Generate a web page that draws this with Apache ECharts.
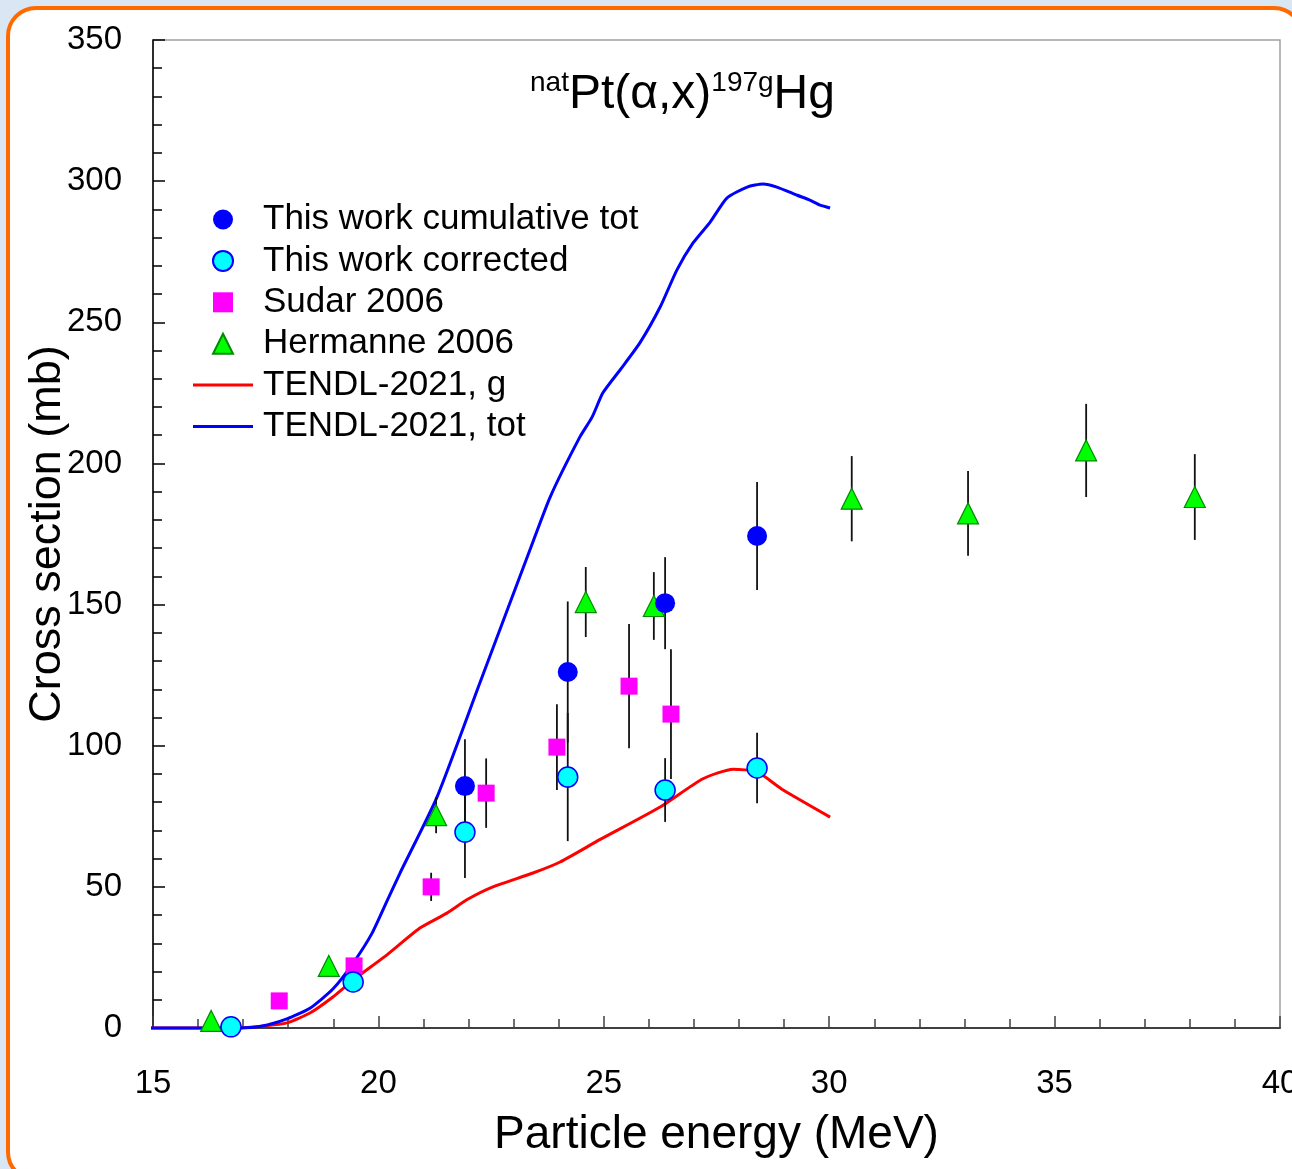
<!DOCTYPE html>
<html>
<head>
<meta charset="utf-8">
<script src="https://cdn.jsdelivr.net/npm/echarts@6/dist/echarts.min.js"></script>
<style>
  html, body { margin:0; padding:0; width:1292px; height:1169px; overflow:hidden; background:#d9e6f3; }
  #frame { position:absolute; left:6px; top:6px; width:1290px; height:1168px; border:4px solid #ff6a00; border-radius:30px; background:#fff; }
  #main { position:absolute; left:0; top:0; width:1292px; height:1169px; }
</style>
</head>
<body>
<div id="frame"></div>
<div id="main"></div>
<script>
// ---- data ----
const cumE   = [21.92, 24.20, 26.36, 28.40];
const cumV   = [85.7, 126.1, 150.5, 174.3];
const cumErr = [16.6, 25.0, 16.3, 19.1];

const corE   = [16.73, 19.44, 21.92, 24.20, 26.36, 28.40];
const corV   = [0.4, 16.3, 69.4, 88.9, 84.3, 92.1];
const corErr = [0, 0, 16.3, 22.7, 11.3, 12.5];

const sudE   = [17.80, 19.46, 21.17, 22.39, 23.96, 25.56, 26.49];
const sudV   = [9.6, 22.0, 50.0, 83.2, 99.5, 121.1, 111.2];
const sudErr = [0, 0, 5.0, 12.3, 15.2, 22.0, 23.0];

const herE   = [16.29, 18.90, 21.28, 24.60, 26.11, 30.50, 33.08, 35.70, 38.11];
const herV   = [2.5, 22.0, 75.4, 150.9, 149.5, 187.5, 182.3, 204.6, 188.1];
const herErr = [0, 0, 6.4, 12.4, 12.0, 15.1, 15.0, 16.5, 15.2];

const tgE = [14.75, 16.9, 17.4, 17.97, 18.48, 18.99, 19.44, 20.19, 20.92, 21.52, 21.97, 22.54, 23.43, 24.03, 24.92, 26.25, 27.2, 27.87, 28.4, 28.98, 30.02];
const tgV = [0, 0, 0.6, 1.8, 5.3, 11.0, 17.0, 25.9, 35.4, 40.7, 45.5, 50.0, 54.9, 58.8, 66.8, 78.3, 88.3, 91.7, 90.7, 84.3, 74.7];

const ttE = [14.75, 16.9, 17.4, 17.97, 18.48, 18.99, 19.44, 19.86, 20.2, 20.48, 21.3, 22.25, 23.36, 23.81, 24.47, 24.74, 24.98, 25.36, 25.8, 26.25, 26.62, 26.98, 27.36, 27.73, 28.18, 28.53, 28.84, 29.29, 29.57, 29.8, 30.02];
const ttV = [0, 0, 0.6, 3.2, 7.0, 13.8, 23.0, 33.6, 45.3, 54.9, 81.8, 122.2, 169.3, 188.1, 209.4, 216.4, 225.0, 233.1, 242.7, 255.4, 268.5, 278.1, 285.5, 294.0, 297.9, 299.0, 297.9, 295.0, 293.3, 291.5, 290.5];

const xTicks = [15, 20, 25, 30, 35, 40];
const yTicks = [0, 50, 100, 150, 200, 250, 300, 350];

const names = ['This work cumulative tot', 'This work corrected', 'Sudar 2006', 'Hermanne 2006', 'TENDL-2021, g', 'TENDL-2021, tot'];

// ---- build ----
const zip = (a, b) => a.map((v, i) => [v, b[i]]);
const errData = [];
[[cumE, cumV, cumErr], [corE, corV, corErr], [sudE, sudV, sudErr], [herE, herV, herErr]].forEach(([e, v, er]) => {
  e.forEach((x, i) => { if (er[i] > 0) errData.push([x, v[i] - er[i], v[i] + er[i]]); });
});

const FONT = '"Liberation Sans", Arial, sans-serif';
const LINE_ICON = 'path://M0,0L60,0L60,3L0,3Z';
const chart = echarts.init(document.getElementById('main'), null, { renderer: 'canvas' });

chart.setOption({
  backgroundColor: 'transparent',
  animation: false,
  title: {
    text: '{sup|nat}{main|Pt(α,x)}{sup|197g}{main|Hg}',
    left: 530, top: 69, padding: 0,
    textStyle: {
      fontFamily: FONT, fontWeight: 'normal',
      rich: {
        main: { fontSize: 48, lineHeight: 52, color: '#000', fontFamily: FONT, fontWeight: 'normal' },
        sup: { fontSize: 28, lineHeight: 20, verticalAlign: 'top', color: '#000', fontFamily: FONT, fontWeight: 'normal' }
      }
    }
  },
  legend: {
    data: [
      { name: names[0], icon: 'circle' },
      { name: names[1], icon: 'circle' },
      { name: names[2], icon: 'path://M0,0L17,0L17,17L0,17Z' },
      { name: names[3], icon: 'path://M10,0L20,20L0,20Z' },
      { name: names[4], icon: LINE_ICON },
      { name: names[5], icon: LINE_ICON }
    ],
    orient: 'vertical',
    left: 193, top: 202,
    itemWidth: 60, itemHeight: 20,
    itemGap: 6.4,
    symbolKeepAspect: true,
    textStyle: { fontSize: 35, lineHeight: 35, color: '#000', fontFamily: FONT, padding: [0, 0, 0, 5] },
    padding: 0
  },
  grid: {
    left: 153, top: 40, right: 12, bottom: 141,
    outerBoundsMode: 'none', containLabel: false,
    show: true, borderColor: '#a0a0a0', borderWidth: 1.5, backgroundColor: 'transparent'
  },
  xAxis: {
    type: 'value', min: 15, max: 40, interval: 5,
    name: 'Particle energy (MeV)', nameLocation: 'middle', nameGap: 84, nameMoveOverlap: false,
    nameTextStyle: { fontSize: 46, color: '#000', fontFamily: FONT },
    axisLine: { show: true, onZero: false, lineStyle: { color: '#404040', width: 2 } },
    axisTick: { show: true, inside: true, length: 12, lineStyle: { color: '#404040', width: 1.5 } },
    minorTick: { show: true, splitNumber: 5, length: 9, lineStyle: { color: '#404040', width: 1.5 } },
    splitLine: { show: false },
    axisLabel: { fontSize: 33, color: '#000', fontFamily: FONT, margin: 39, hideOverlap: false, formatter: v => xTicks.includes(v) ? String(v) : '' }
  },
  yAxis: {
    type: 'value', min: 0, max: 350, interval: 50,
    name: 'Cross section (mb)', nameLocation: 'middle', nameGap: 83, nameRotate: 90, nameMoveOverlap: false,
    nameTextStyle: { fontSize: 45, color: '#000', fontFamily: FONT },
    axisLine: { show: true, lineStyle: { color: '#000', width: 1.5 } },
    axisTick: { show: true, inside: true, length: 12, lineStyle: { color: '#000', width: 1.5 } },
    minorTick: { show: true, splitNumber: 5, length: 9, lineStyle: { color: '#000', width: 1.5 } },
    splitLine: { show: false },
    axisLabel: { fontSize: 33, color: '#000', fontFamily: FONT, margin: 31, formatter: v => yTicks.includes(v) ? String(v) : '' }
  },
  series: [
    {
      name: names[4], type: 'line', data: zip(tgE, tgV), showSymbol: false, symbol: 'none', clip: false,
      smooth: 0.2,
      lineStyle: { color: '#ff0000', width: 3 }, itemStyle: { color: '#ff0000' }, z: 2
    },
    {
      name: names[5], type: 'line', data: zip(ttE, ttV), showSymbol: false, symbol: 'none', clip: false,
      smooth: 0.2,
      lineStyle: { color: '#0000ff', width: 3 }, itemStyle: { color: '#0000ff' }, z: 2
    },
    {
      name: 'err', type: 'custom', data: errData, encode: { x: 0, y: [1, 2] }, z: 3,
      renderItem: (params, api) => {
        const p1 = api.coord([api.value(0), api.value(1)]);
        const p2 = api.coord([api.value(0), api.value(2)]);
        return { type: 'line', shape: { x1: p1[0], y1: p1[1], x2: p2[0], y2: p2[1] }, style: { stroke: '#111', lineWidth: 1.8 } };
      }
    },
    {
      name: names[3], type: 'scatter', data: zip(herE, herV), symbol: 'triangle', symbolSize: 21, z: 4,
      itemStyle: { color: '#00ff00', borderColor: '#008c00', borderWidth: 1.2, opacity: 1 }
    },
    {
      name: names[2], type: 'scatter', data: zip(sudE, sudV), symbol: 'rect', symbolSize: 17, z: 5,
      itemStyle: { color: '#ff00ff', opacity: 1 }
    },
    {
      name: names[0], type: 'scatter', data: zip(cumE, cumV), symbol: 'circle', symbolSize: 20, z: 6,
      itemStyle: { color: '#0000ff', opacity: 1 }
    },
    {
      name: names[1], type: 'scatter', data: zip(corE, corV), symbol: 'circle', symbolSize: 20, z: 7,
      itemStyle: { color: '#00ffff', borderColor: '#0000ff', borderWidth: 1.5, opacity: 1 }
    }
  ]
});
</script>
</body>
</html>
